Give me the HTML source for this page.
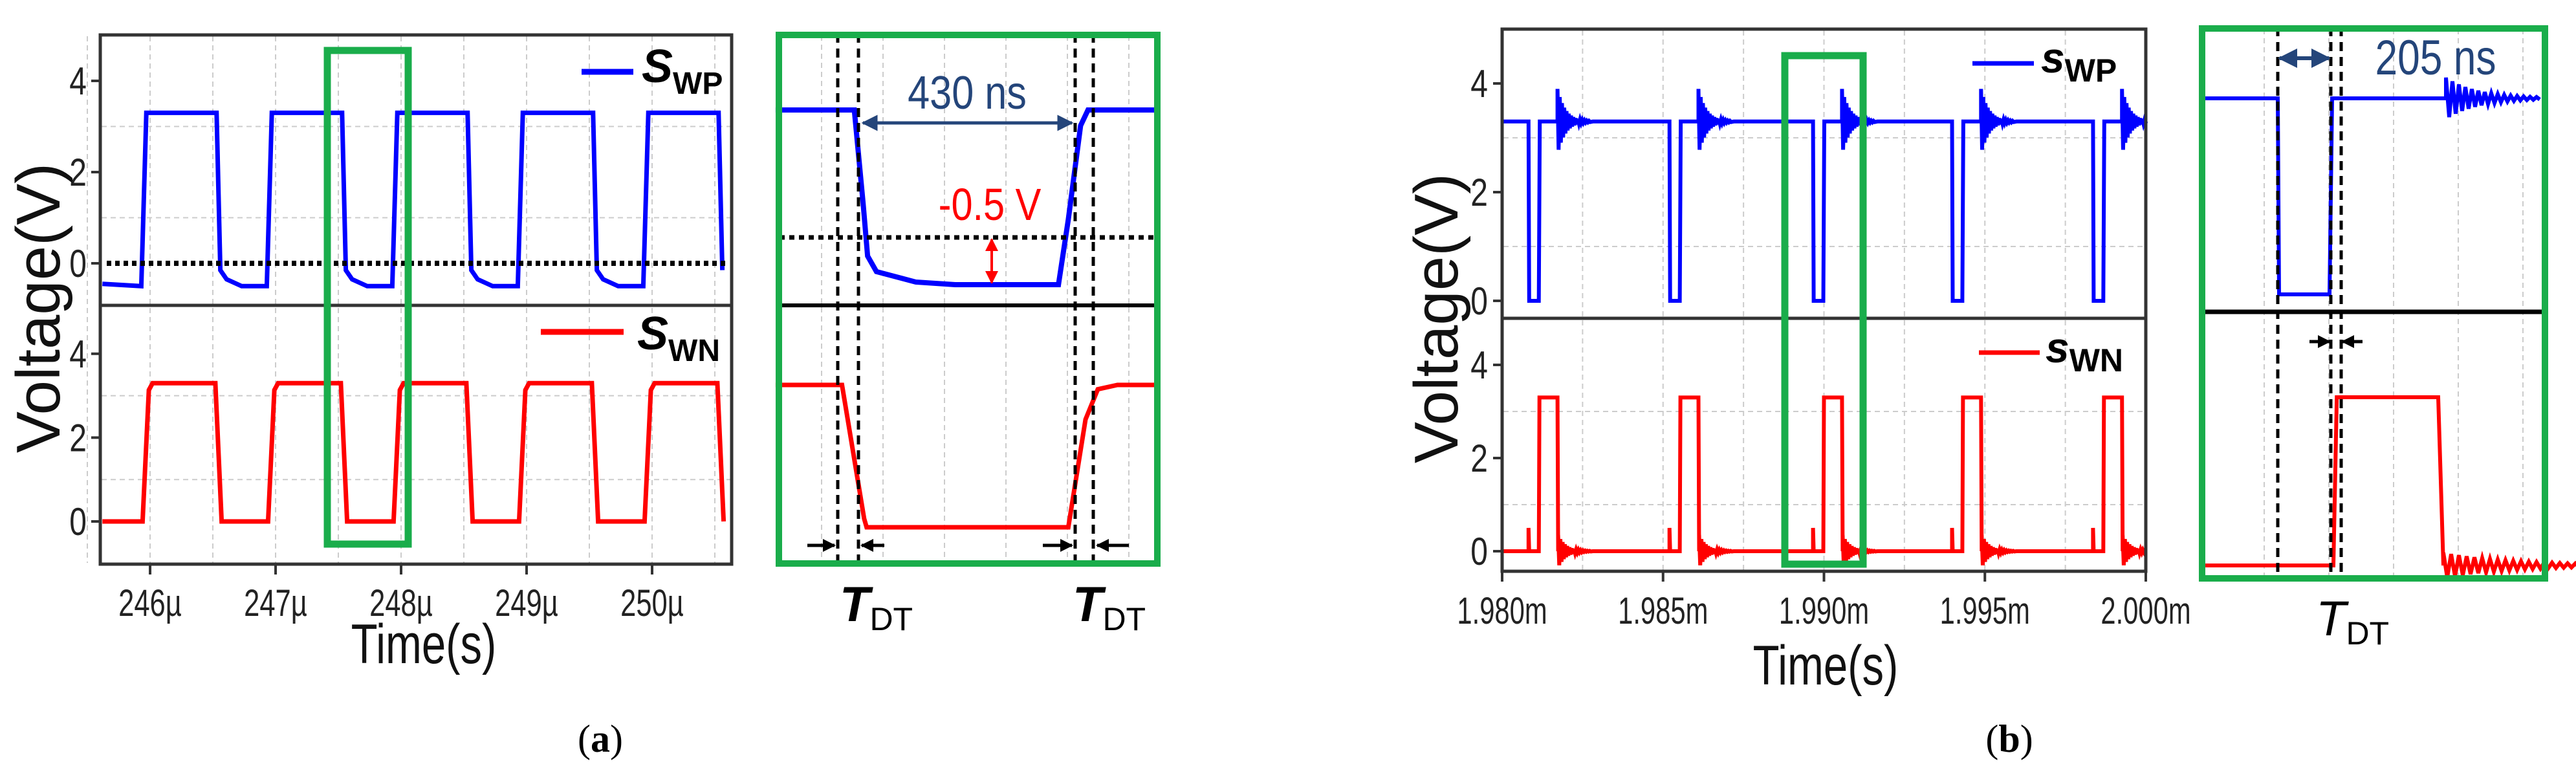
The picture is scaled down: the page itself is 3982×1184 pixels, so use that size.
<!DOCTYPE html>
<html><head><meta charset="utf-8"><style>
html,body{margin:0;padding:0;background:#fff;}
svg{display:block;font-family:"Liberation Sans",sans-serif;}
</style></head><body>
<svg id="fig" width="3982" height="1184" viewBox="0 0 3982 1184">
<defs>
<marker id="ahB" viewBox="0 0 10 10" refX="9" refY="5" markerWidth="5" markerHeight="5" orient="auto-start-reverse"><path d="M0,0L10,5L0,10z" fill="#24457a"/></marker>
<marker id="ahR" viewBox="0 0 10 10" refX="9" refY="5" markerWidth="5" markerHeight="5" orient="auto-start-reverse"><path d="M0,0L10,5L0,10z" fill="#f00"/></marker>
<marker id="ahK" viewBox="0 0 10 10" refX="9" refY="5" markerWidth="4" markerHeight="4" orient="auto"><path d="M0,0L10,5L0,10z" fill="#000"/></marker>
</defs>
<g id="grid"></g>
<g id="marks"></g>
<g id="deco"></g>
<g id="txt"></g>
</svg>
<script>
// ---- panel (a) data ----
const aTicks = [246,247,248,249,250];
const aTickLabels = ["246µ","247µ","248µ","249µ","250µ"];
const aYTicks = [0,2,4];
const aRises = [245.93,246.93,247.93,248.93,249.93];
const aFalls = [246.53,247.53,248.53,249.53,250.53];
const aHigh = 3.3, aLowWP = -0.5, aLowWN = 0;
// ---- panel (b) data ----
const bTicks = [0,5,10,15,20];
const bTickLabels = ["1.980m","1.985m","1.990m","1.995m","2.000m"];
const bPulses = [0.82,5.20,9.66,13.98,18.36];
const bHigh = 3.3, bPulseWidth = 0.32, bSpikeDelay = 0.9;
// ---- zoom panels ----
const zaDead = [1295,1327,1662,1690];
const zbDead = [3521,3603,3619];

const NS="http://www.w3.org/2000/svg";
function el(tag,attrs,parent){const e=document.createElementNS(NS,tag);for(const k in attrs)e.setAttribute(k,attrs[k]);(parent||document.getElementById('marks')).appendChild(e);return e;}
const G=document.getElementById('grid'),D=document.getElementById('deco'),T=document.getElementById('txt');

const xa=t=>232+(t-246)*194, yaU=v=>407-70.5*v, yaL=v=>806-64.8*v;
const xb=t=>2322+t*49.75, ybU=v=>465-84*v, ybL=v=>852-72*v;

function frame(x1,y1,x2,ym,y2){
  const r=el('rect',{x:x1,y:y1,width:x2-x1,height:y2-y1,fill:'none',stroke:'#333','stroke-width':5},D);
  
  const m=el('line',{x1:x1,x2:x2,y1:ym,y2:ym,stroke:'#333','stroke-width':5},D);
  
}
for(let t=245.5;t<=250.6;t+=0.5){const l=el('line',{x1:xa(t),x2:xa(t),y1:56,y2:870,stroke:'#ccc','stroke-width':2,'stroke-dasharray':'8 6'},G);}
[1,3].forEach(v=>{el('line',{x1:157,x2:1129,y1:yaU(v),y2:yaU(v),stroke:'#ccc','stroke-width':2,'stroke-dasharray':'8 6'},G);el('line',{x1:157,x2:1129,y1:yaL(v),y2:yaL(v),stroke:'#ccc','stroke-width':2,'stroke-dasharray':'8 6'},G);});
for(let t=0;t<=20;t+=2.5){const l=el('line',{x1:xb(t),x2:xb(t),y1:47,y2:881,stroke:'#ccc','stroke-width':2,'stroke-dasharray':'8 6'},G);}
[1,3].forEach(v=>{el('line',{x1:2324,x2:3315,y1:ybU(v),y2:ybU(v),stroke:'#ccc','stroke-width':2,'stroke-dasharray':'8 6'},G);el('line',{x1:2324,x2:3315,y1:ybL(v),y2:ybL(v),stroke:'#ccc','stroke-width':2,'stroke-dasharray':'8 6'},G);});

function clampA(t){return Math.max(245.62,Math.min(250.6,t));}
let pU=[[245.62,-0.45]], pL=[[245.62,0]];
aRises.forEach((r,i)=>{
  const f=aFalls[i];
  pU.push([r,aLowWP],[r+0.04,aHigh],[f,aHigh],[f+0.03,-0.15],[f+0.08,-0.35],[f+0.2,aLowWP]);
  pL.push([r+0.01,aLowWN],[r+0.06,aHigh*0.95],[r+0.09,aHigh],[f-0.01,aHigh],[f+0.04,aLowWN]);
});
function pathOf(pts,fx,fy){return pts.filter(p=>p[0]<=250.6).map((p,i)=>(i?'L':'M')+fx(clampA(p[0])).toFixed(1)+','+fy(p[1]).toFixed(1)).join('');}
let w=el('path',{d:pathOf(pU,xa,yaU),fill:'none',stroke:'#00f','stroke-width':7});

w=el('path',{d:pathOf(pL,xa,yaL),fill:'none',stroke:'#f00','stroke-width':7});

el('line',{x1:165,x2:1122,y1:yaU(0),y2:yaU(0),stroke:'#000','stroke-width':8,'stroke-dasharray':'7 6'},D);
frame(155,54,1131,472,872);

function ring(pts,t0,v0,amp,n){for(let k=0;k<n;k++){const t=t0+k*0.035;const a=amp*Math.exp(-k/7)*(k%2?-1:1);pts.push([t,v0+a]);}}
let bU=[[0,bHigh]], bL=[[0,0]];
bPulses.forEach(p=>{
  bU.push([p,bHigh],[p+0.02,0],[p+bPulseWidth,0],[p+bPulseWidth+0.03,bHigh],[p+bSpikeDelay,bHigh]);
  ring(bU,p+bSpikeDelay,bHigh,0.6,30);bU.push([p+bSpikeDelay+1.1,bHigh]);
  bL.push([p,0],[p,0.5],[p+0.02,0],[p+bPulseWidth,0],[p+bPulseWidth+0.02,bHigh],[p+bSpikeDelay,bHigh],[p+bSpikeDelay+0.02,0]);
  ring(bL,p+bSpikeDelay+0.02,0,0.35,30);bL.push([p+bSpikeDelay+1.1,0]);
});
bU.push([20,bHigh]);bL.push([20,0]);
function pathB(pts,fy){return pts.filter(p=>p[0]<=20).map((p,i)=>(i?'L':'M')+xb(p[0]).toFixed(1)+','+fy(p[1]).toFixed(1)).join('');}
w=el('path',{d:pathB(bU,ybU),fill:'none',stroke:'#00f','stroke-width':6});

w=el('path',{d:pathB(bL,ybL),fill:'none',stroke:'#f00','stroke-width':6});

frame(2322,45,3317,492,883);

aTicks.forEach((t,i)=>{el('line',{x1:xa(t),x2:xa(t),y1:872,y2:888,stroke:'#333','stroke-width':4},D);
 const tx=el('text',{x:xa(t),y:952,'font-size':58,'text-anchor':'middle',fill:'#222',transform:`translate(${xa(t)},0) scale(0.75,1) translate(${-xa(t)},0)`},T);tx.textContent=aTickLabels[i];
 });
aYTicks.forEach(v=>{[yaU,yaL].forEach(f=>{el('line',{x1:155,x2:141,y1:f(v),y2:f(v),stroke:'#333','stroke-width':4},D);
 const tx=el('text',{x:134,y:f(v)+21,'font-size':60,'text-anchor':'end',fill:'#222',transform:`translate(134,0) scale(0.8,1) translate(-134,0)`},T);tx.textContent=v;
 });});
bTicks.forEach((t,i)=>{el('line',{x1:xb(t),x2:xb(t),y1:883,y2:899,stroke:'#333','stroke-width':4},D);
 const tx=el('text',{x:xb(t),y:964,'font-size':58,'text-anchor':'middle',fill:'#222',transform:`translate(${xb(t)},0) scale(0.72,1) translate(${-xb(t)},0)`},T);tx.textContent=bTickLabels[i];
 });
aYTicks.forEach(v=>{[ybU,ybL].forEach(f=>{el('line',{x1:2322,x2:2308,y1:f(v),y2:f(v),stroke:'#333','stroke-width':4},D);
 const tx=el('text',{x:2300,y:f(v)+21,'font-size':60,'text-anchor':'end',fill:'#222',transform:`translate(2300,0) scale(0.8,1) translate(-2300,0)`},T);tx.textContent=v;
 });});

// Zoom panel a
const zxa=ns=>1332+ns*(327/430);
let zU=[[-175,3.3],[-15,3.3],[3,1.5],[12,0.5],[30,0.2],[110,0],[190,-0.05],[400,-0.05],[420,1.2],[445,3.0],[460,3.3],[605,3.3]];
const zyU=v=>440-(v+0.05)*(270/3.35);
w=el('path',{d:zU.map((p,i)=>(i?'L':'M')+zxa(p[0])+','+zyU(p[1])).join(''),fill:'none',stroke:'#00f','stroke-width':8});

let zL=[[-175,3.3],[-40,3.3],[5,0.2],[10,0],[420,0],[455,2.5],[480,3.2],[520,3.3],[605,3.3]];
const zyL=v=>815-v*(220/3.3);
w=el('path',{d:zL.map((p,i)=>(i?'L':'M')+zxa(p[0])+','+zyL(p[1])).join(''),fill:'none',stroke:'#f00','stroke-width':7});

el('line',{x1:1205,x2:1790,y1:472,y2:472,stroke:'#000','stroke-width':6},D);
el('line',{x1:1205,x2:1790,y1:367,y2:367,stroke:'#000','stroke-width':7,'stroke-dasharray':'8 7'},D);
zaDead.forEach(x=>{const l=el('line',{x1:x,x2:x,y1:52,y2:873,stroke:'#000','stroke-width':5,'stroke-dasharray':'14 9'},D);});
for(let x=1270;x<1790;x+=95){el('line',{x1:x,x2:x,y1:55,y2:870,stroke:'#ccc','stroke-width':2,'stroke-dasharray':'8 6'},G);}
el('line',{x1:1334,x2:1657,y1:190,y2:190,stroke:'#24457a','stroke-width':5,'marker-start':'url(#ahB)','marker-end':'url(#ahB)'},D);
el('line',{x1:1533,x2:1533,y1:370,y2:437,stroke:'#f00','stroke-width':4,'marker-start':'url(#ahR)','marker-end':'url(#ahR)'},D);
[[1248,1290],[1367,1332],[1612,1657],[1745,1696]].forEach(([a,b])=>el('line',{x1:a,x2:b,y1:843,y2:843,stroke:'#000','stroke-width':5,'marker-end':'url(#ahK)'},D));
const gb=el('rect',{x:1204,y:54,width:585,height:817,fill:'none',stroke:'#1aad4b','stroke-width':10},D);
const gs=el('rect',{x:506,y:78,width:125,height:763,fill:'none',stroke:'#1aad4b','stroke-width':11},D);

// Zoom panel b
const zxb=ns=>3521+ns*(82/205);
let zbU=[[-300,3.3],[0,3.3],[5,0],[200,0],[210,3.3],[650,3.3]];
const zybU=v=>455-v*(303/3.3);
let zbUd=zbU.map((p,i)=>(i?'L':'M')+zxb(p[0]).toFixed(1)+','+zybU(p[1]).toFixed(1)).join('');
for(let k=0;k<30;k++){zbUd+='L'+(zxb(650)+k*5)+','+zybU(3.3+0.35*Math.exp(-k/10)*(k%2?-1:1)).toFixed(1);}
w=el('path',{d:zbUd,fill:'none',stroke:'#00f','stroke-width':6});
let zbL=[[-300,0],[215,0],[228,3.3],[620,3.3],[640,0]];
const zybL=v=>874-v*(260/3.3);
let zbLd=zbL.map((p,i)=>(i?'L':'M')+zxb(p[0]).toFixed(1)+','+zybL(p[1]).toFixed(1)).join('');
for(let k=0;k<50;k++){zbLd+='L'+(zxb(640)+k*6)+','+zybL(0.25*Math.exp(-k/18)*(k%2?-1:1)).toFixed(1);}
w=el('path',{d:zbLd,fill:'none',stroke:'#f00','stroke-width':6});
for(let x=3500;x<3935;x+=100){el('line',{x1:x,x2:x,y1:45,y2:893,stroke:'#ccc','stroke-width':2,'stroke-dasharray':'8 6'},G);}
el('line',{x1:3404,x2:3934,y1:482,y2:482,stroke:'#000','stroke-width':7},D);
zbDead.forEach(x=>{const l=el('line',{x1:x,x2:x,y1:42,y2:895,stroke:'#000','stroke-width':5,'stroke-dasharray':'14 9'},D);});
el('line',{x1:3524,x2:3600,y1:90,y2:90,stroke:'#24457a','stroke-width':6,'marker-start':'url(#ahB)','marker-end':'url(#ahB)'},D);
el('line',{x1:3570,x2:3601,y1:528,y2:528,stroke:'#000','stroke-width':5,'marker-end':'url(#ahK)'},D);
el('line',{x1:3652,x2:3621,y1:528,y2:528,stroke:'#000','stroke-width':5,'marker-end':'url(#ahK)'},D);
const gb2=el('rect',{x:3404,y:44,width:530,height:850,fill:'none',stroke:'#1aad4b','stroke-width':10},D);
const gs2=el('rect',{x:2759,y:86,width:121,height:786,fill:'none',stroke:'#1aad4b','stroke-width':11},D);

el('line',{x1:899,x2:979,y1:111,y2:111,stroke:'#00f','stroke-width':9},D);
el('line',{x1:836,x2:964,y1:513,y2:513,stroke:'#f00','stroke-width':9},D);
el('line',{x1:3049,x2:3144,y1:98,y2:98,stroke:'#00f','stroke-width':7},D);
el('line',{x1:3059,x2:3153,y1:545,y2:545,stroke:'#f00','stroke-width':7},D);
</script>
<svg width="3982" height="1184" style="position:absolute;left:0;top:0" font-family="Liberation Sans, sans-serif">
<text x="992" y="127" font-size="72" font-weight="bold" font-style="italic">S<tspan font-size="48" font-style="normal" dy="18">WP</tspan></text>
<text x="985" y="540" font-size="72" font-weight="bold" font-style="italic">S<tspan font-size="48" font-style="normal" dy="18">WN</tspan></text>
<text x="3155" y="112" font-size="66" font-weight="bold" font-style="italic">s<tspan font-size="50" font-style="normal" dy="14">WP</tspan></text>
<text x="3162" y="560" font-size="66" font-weight="bold" font-style="italic">s<tspan font-size="50" font-style="normal" dy="14">WN</tspan></text>
<text transform="translate(92,476) rotate(-90)" font-size="96" text-anchor="middle" fill="#111">Voltage(V)</text>
<text transform="translate(2253,492) rotate(-90)" font-size="96" text-anchor="middle" fill="#111">Voltage(V)</text>
<text x="655" y="1025" font-size="86" text-anchor="middle" fill="#111" transform="translate(655,0) scale(0.78,1) translate(-655,0)">Time(s)</text>
<text x="2822" y="1058" font-size="86" text-anchor="middle" fill="#111" transform="translate(2822,0) scale(0.78,1) translate(-2822,0)">Time(s)</text>
<text x="1495" y="168" font-size="72" text-anchor="middle" fill="#24457a" transform="translate(1495,0) scale(0.85,1) translate(-1495,0)">430 ns</text>
<text x="1530" y="340" font-size="70" text-anchor="middle" fill="#f00" transform="translate(1530,0) scale(0.85,1) translate(-1530,0)">-0.5 V</text>
<text x="3765" y="115" font-size="76" text-anchor="middle" fill="#24457a" transform="translate(3765,0) scale(0.82,1) translate(-3765,0)">205 ns</text>
<text x="1298" y="960" font-size="76" font-weight="bold" font-style="italic">T<tspan font-size="50" font-weight="normal" font-style="normal" dy="14">DT</tspan></text>
<text x="1658" y="960" font-size="76" font-weight="bold" font-style="italic">T<tspan font-size="50" font-weight="normal" font-style="normal" dy="14">DT</tspan></text>
<text x="3580" y="982" font-size="76" font-style="italic">T<tspan font-size="50" font-style="normal" dy="14">DT</tspan></text>
<text x="928" y="1162" font-size="60" font-family="Liberation Serif, serif" text-anchor="middle">(<tspan font-weight="bold">a</tspan>)</text>
<text x="3106" y="1162" font-size="60" font-family="Liberation Serif, serif" text-anchor="middle">(<tspan font-weight="bold">b</tspan>)</text>
</svg>
</body></html>
